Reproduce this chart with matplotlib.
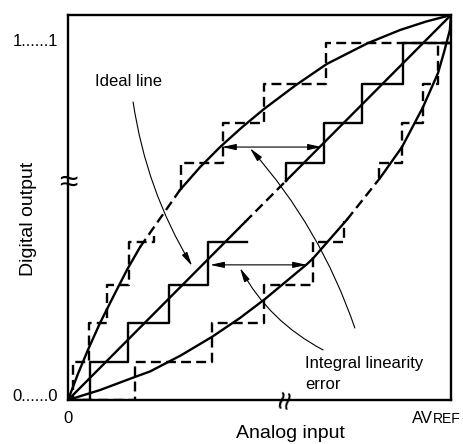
import matplotlib
matplotlib.use('Agg')
import matplotlib.pyplot as plt

plt.rcParams['font.family'] = ['Liberation Sans', 'DejaVu Sans']

# all values are fractions of full scale (analog input -> x, digital output -> y)
# the chart is drawn in two pieces with an axis break in the middle

# ideal staircase (solid)
ideal_lo_x = [0.0, 0.057, 0.157, 0.264, 0.366, 0.468]
ideal_lo_y = [0.0, 0.10, 0.20, 0.30, 0.41, 0.41]
ideal_hi_x = [0.569, 0.569, 0.668, 0.768, 0.875, 1.0]
ideal_hi_y = [0.569, 0.615, 0.72, 0.82, 0.927, 0.927]

# staircase bending upward (dashed)
up_lo_x = [0.0, 0.013, 0.055, 0.102, 0.159, 0.2245]
up_lo_y = [0.0, 0.10, 0.20, 0.30, 0.41, 0.425]
up_hi_x = [0.295, 0.295, 0.405, 0.512, 0.674, 1.0]
up_hi_y = [0.545, 0.615, 0.72, 0.82, 0.927, 0.927]

# staircase bending downward (dashed)
dn_lo_x = [0.0, 0.175, 0.376, 0.512, 0.640, 0.7206]
dn_lo_y = [0.0, 0.10, 0.20, 0.30, 0.41, 0.465]
dn_hi_x = [0.812, 0.812, 0.872, 0.927, 0.966, 1.0]
dn_hi_y = [0.577, 0.615, 0.72, 0.82, 0.927, 0.927]

# ideal line
line_lo_x = [0.0, 0.462]
line_hi_x = [0.569, 1.0]

# upper transfer curve
bow_up_lo_x = [0.0, 0.026, 0.052, 0.0836, 0.120, 0.154, 0.188]
bow_up_lo_y = [0.0, 0.068, 0.130, 0.200, 0.272, 0.338, 0.397]
bow_up_hi_x = [0.292, 0.345, 0.397, 0.455, 0.512, 0.595, 0.676, 0.783, 0.867, 0.935, 1.0]
bow_up_hi_y = [0.545, 0.605, 0.657, 0.709, 0.756, 0.818, 0.873, 0.927, 0.961, 0.983, 1.0]

# lower transfer curve
bow_dn_lo_x = [0.0, 0.084, 0.175, 0.214, 0.295, 0.376, 0.449, 0.514, 0.624, 0.640, 0.728]
bow_dn_lo_y = [0.0, 0.026, 0.060, 0.074, 0.116, 0.164, 0.213, 0.262, 0.353, 0.368, 0.468]
bow_dn_hi_x = [0.815, 0.872, 0.927, 0.966, 0.982, 0.997, 1.0]
bow_dn_hi_y = [0.577, 0.657, 0.761, 0.849, 0.904, 0.961, 1.0]

LW = 1.7
DASH = (0, (4.2, 2.2))

fig = plt.figure(figsize=(4.63, 4.44), dpi=100)
ax = fig.add_axes([68 / 463, 44 / 444, 383 / 463, 385 / 444])
ax.set_xlim(0, 1)
ax.set_ylim(0, 1)
ax.set_xticks([])
ax.set_yticks([])
for s in ax.spines.values():
    s.set_linewidth(LW)

# staircases
ax.step(ideal_lo_x, ideal_lo_y, where='post', color='k', lw=LW)
ax.step(ideal_hi_x, ideal_hi_y, where='post', color='k', lw=LW)
ax.step(up_lo_x, up_lo_y, where='post', color='k', lw=LW, linestyle=DASH)
ax.step(up_hi_x, up_hi_y, where='post', color='k', lw=LW, linestyle=DASH)
ax.step(dn_lo_x, dn_lo_y, where='post', color='k', lw=LW, linestyle=DASH)
ax.step(dn_hi_x, dn_hi_y, where='post', color='k', lw=LW, linestyle=DASH)

# ideal line, solid with a dashed bridge over the break
ax.plot(line_lo_x, line_lo_x, color='k', lw=LW)
ax.plot([line_lo_x[-1], line_hi_x[0]], [line_lo_x[-1], line_hi_x[0]], color='k', lw=LW, linestyle=DASH)
ax.plot(line_hi_x, line_hi_x, color='k', lw=LW)

# bent transfer curves
for lo_x, lo_y, hi_x, hi_y in [(bow_up_lo_x, bow_up_lo_y, bow_up_hi_x, bow_up_hi_y),
                               (bow_dn_lo_x, bow_dn_lo_y, bow_dn_hi_x, bow_dn_hi_y)]:
    ax.plot(lo_x, lo_y, color='k', lw=LW, solid_joinstyle='round')
    ax.plot([lo_x[-1], hi_x[0]], [lo_y[-1], hi_y[0]], color='k', lw=LW, linestyle=DASH)
    ax.plot(hi_x, hi_y, color='k', lw=LW, solid_joinstyle='round')

# error arrows
dbl = dict(arrowstyle='<|-|>,head_length=0.6,head_width=0.13', lw=0.8, color='k',
           shrinkA=0, shrinkB=0, mutation_scale=14)
ax.annotate('', xy=(0.663, 0.657), xytext=(0.402, 0.657), arrowprops=dbl)
ax.annotate('', xy=(0.624, 0.351), xytext=(0.371, 0.351), arrowprops=dbl)

def pointer(xy, xytext, rad):
    ax.annotate('', xy=xy, xytext=xytext,
                arrowprops=dict(arrowstyle='-|>,head_length=0.6,head_width=0.13', lw=0.8,
                                color='k', shrinkA=0, shrinkB=0, mutation_scale=14,
                                connectionstyle='arc3,rad=%s' % rad))

pointer((0.324, 0.348), (0.170, 0.774), 0.1)
pointer((0.449, 0.343), (0.666, 0.130), -0.15)
pointer((0.475, 0.654), (0.749, 0.187), 0.1)

fs = 12
ax.text(0.0705, 0.826, 'Ideal line', fontsize=fs, ha='left', va='center')
ax.text(0.619, 0.096, 'Integral linearity', fontsize=fs, ha='left', va='center')
ax.text(0.619, 0.039, 'error', fontsize=fs, ha='left', va='center')

ax.text(-0.026, 0.93, '1......1', fontsize=fs, ha='right', va='center', clip_on=False)
ax.text(-0.026, 0.01, '0......0', fontsize=fs, ha='right', va='center', clip_on=False)
ax.text(0.0, -0.060, '0', fontsize=fs, ha='center', va='baseline', clip_on=False)
ax.text(0.953, -0.060, 'AV', fontsize=fs, ha='right', va='baseline', clip_on=False)
ax.text(0.953, -0.060, 'REF', fontsize=10, ha='left', va='baseline', clip_on=False)

ax.text(0.58, -0.087, 'Analog input', fontsize=14, ha='center', va='center', clip_on=False)
ax.text(-0.102, 0.47, 'Digital output', fontsize=14, ha='center', va='center',
        rotation=90, clip_on=False)

# axis break marks
ax.text(0.0, 0.564, '\u2248', fontsize=24, ha='center', va='center', clip_on=False)
ax.text(0.572, 0.0, '\u2248', fontsize=24, ha='center', va='center', rotation=80, clip_on=False)

fig.savefig('out.png', dpi=100)
